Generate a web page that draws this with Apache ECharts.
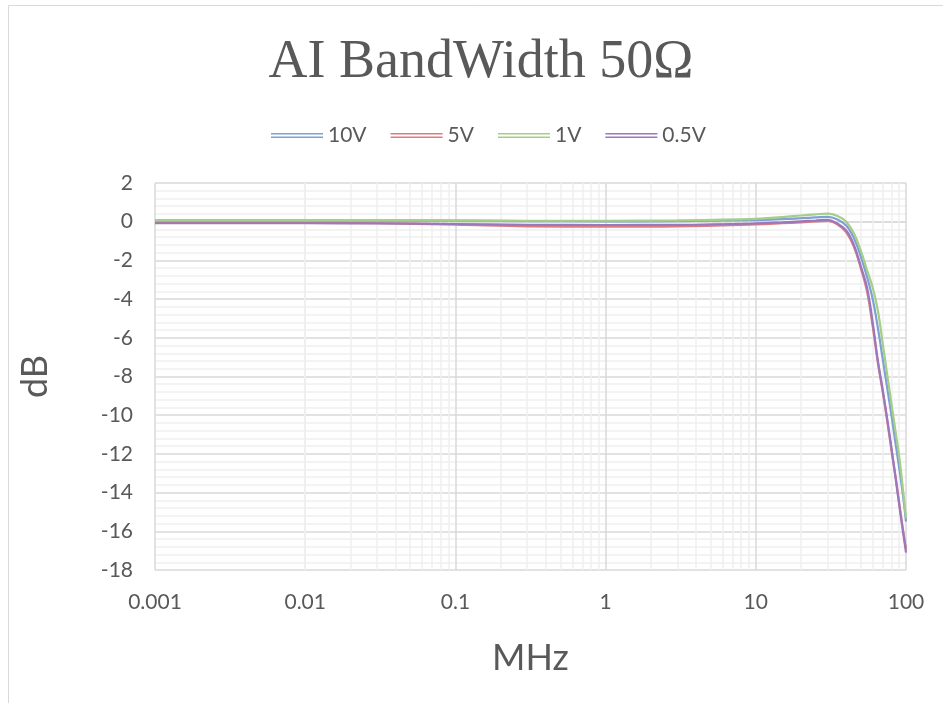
<!DOCTYPE html>
<html>
<head>
<meta charset="utf-8">
<script src="https://cdn.jsdelivr.net/npm/echarts@6/dist/echarts.min.js"></script>
<style>
html,body{margin:0;padding:0;background:#fff;}
#chart{width:943px;height:703px;}
</style>
</head>
<body>
<div id="chart"></div>
<script>
// ---- data ----
const titleText = 'AI BandWidth 50Ω';
const seriesNames = ['10V', '5V', '1V', '0.5V'];
const freqMHz = [0.001, 0.003, 0.01, 0.03, 0.1, 0.3, 1, 3, 10, 15, 20, 25, 30, 35, 40, 45, 50, 55, 60, 65, 70, 75, 80, 85, 90, 95, 100];
const db10V  = [0.06, 0.06, 0.06, 0.06, 0.05, 0.03, 0.02, 0.03, 0.08, 0.13, 0.18, 0.22, 0.25, 0.12, -0.2, -0.85, -1.8, -2.85, -4.0, -5.5, -7.1, -8.6, -10.0, -11.4, -12.7, -14.0, -15.5];
const db5V   = [-0.06, -0.06, -0.06, -0.08, -0.15, -0.24, -0.26, -0.24, -0.14, -0.08, -0.03, 0.01, 0.04, -0.15, -0.55, -1.3, -2.4, -3.6, -5.4, -7.3, -8.8, -10.3, -11.8, -13.1, -14.5, -15.8, -16.9];
const db1V   = [0.08, 0.08, 0.08, 0.08, 0.07, 0.05, 0.05, 0.07, 0.15, 0.24, 0.32, 0.38, 0.42, 0.3, 0.0, -0.6, -1.5, -2.5, -3.4, -4.6, -6.3, -7.9, -9.4, -10.8, -12.1, -13.7, -15.3];
const db05V  = [-0.08, -0.08, -0.08, -0.09, -0.12, -0.16, -0.17, -0.16, -0.09, -0.03, 0.02, 0.06, 0.1, -0.1, -0.45, -1.2, -2.3, -3.4, -5.2, -7.2, -8.7, -10.2, -11.7, -13.2, -14.6, -15.9, -17.1];
const xTickLabels = ['0.001', '0.01', '0.1', '1', '10', '100'];
const yTicks = [-18, -16, -14, -12, -10, -8, -6, -4, -2, 0, 2];
const xName = 'MHz';
const yName = 'dB';

// ---- styling ----
const colors = ['#7f9fd6', '#dc7c80', '#a3cf86', '#9a78bd'];
const textColor = '#595959';
const majorGrid = '#d9d9d9';
const minorGrid = '#efefef';

// minor vertical grid positions (2..9 within each decade)
const decades = [0.001, 0.01, 0.1, 1, 10];
const minorX = [];
decades.forEach(d => { for (let k = 2; k <= 9; k++) minorX.push(+(d * k).toPrecision(6)); });

const allValues = [db10V, db5V, db1V, db05V];
const series = seriesNames.map((name, i) => ({
  name: name,
  type: 'line',
  smooth: 0.4,
  showSymbol: false,
  symbol: 'none',
  z: 3,
  lineStyle: { width: 2.2, color: colors[i] },
  itemStyle: { color: colors[i] },
  data: freqMHz.map((f, j) => [f, allValues[i][j]])
}));
series.push({
  name: '__grid',
  type: 'line',
  data: [],
  silent: true,
  z: 1,
  markLine: {
    silent: true,
    symbol: 'none',
    z: 1,
    label: { show: false },
    lineStyle: { color: minorGrid, width: 1.5, type: 'solid' },
    emphasis: { disabled: true },
    data: minorX.map(v => ({ xAxis: v }))
  }
});

const chart = echarts.init(document.getElementById('chart'), null, { renderer: 'canvas' });
chart.setOption({
  backgroundColor: '#ffffff',
  animation: false,
  color: colors,
  graphic: [
    { type: 'rect', shape: { x: 8.5, y: 5.5, width: 960, height: 720 }, style: { fill: 'none', stroke: '#d9d9d9', lineWidth: 1 }, z: 0 },
    { type: 'text', x: 481, y: 63, style: { text: titleText, font: '54px "Liberation Serif", serif', fill: textColor, align: 'center', verticalAlign: 'middle' } }
  ],
  legend: {
    data: seriesNames,
    left: 266,
    top: 120,
    itemWidth: 52,
    itemHeight: 5,
    itemGap: 24,
    icon: 'path://M0,0H52V1.6H0Z M0,3.4H52V5H0Z',
    textStyle: { color: textColor, fontSize: 21, fontFamily: 'Lato' }
  },
  grid: { left: 155, right: 37, top: 183, bottom: 133, containLabel: false },
  xAxis: {
    type: 'log',
    logBase: 10,
    min: 0.001,
    max: 100,
    name: xName,
    nameLocation: 'middle',
    nameGap: 70,
    nameTextStyle: { color: textColor, fontSize: 36, fontFamily: 'Lato' },
    axisLine: { show: true, lineStyle: { color: majorGrid, width: 1.5 } },
    axisTick: { show: false },
    axisLabel: {
      color: textColor, fontSize: 21, fontFamily: 'Lato', margin: 22,
      formatter: v => {
        const s = String(parseFloat(Number(v).toPrecision(6)));
        return xTickLabels.indexOf(s) >= 0 ? s : '';
      }
    },
    splitLine: { show: true, lineStyle: { color: majorGrid, width: 1.5 } }
  },
  yAxis: {
    type: 'value',
    min: yTicks[0],
    max: yTicks[yTicks.length - 1],
    interval: 2,
    name: yName,
    nameLocation: 'middle',
    nameGap: 102,
    nameRotate: 90,
    nameTextStyle: { color: textColor, fontSize: 36, fontFamily: 'Lato' },
    axisLine: { show: false },
    axisTick: { show: false },
    axisLabel: { color: textColor, fontSize: 21, fontFamily: 'Lato', margin: 22 },
    splitLine: { show: true, lineStyle: { color: majorGrid, width: 1.5 } },
    minorTick: { show: false, splitNumber: 5 },
    minorSplitLine: { show: true, lineStyle: { color: minorGrid, width: 1.5 } }
  },
  series: series
});
</script>
</body>
</html>
